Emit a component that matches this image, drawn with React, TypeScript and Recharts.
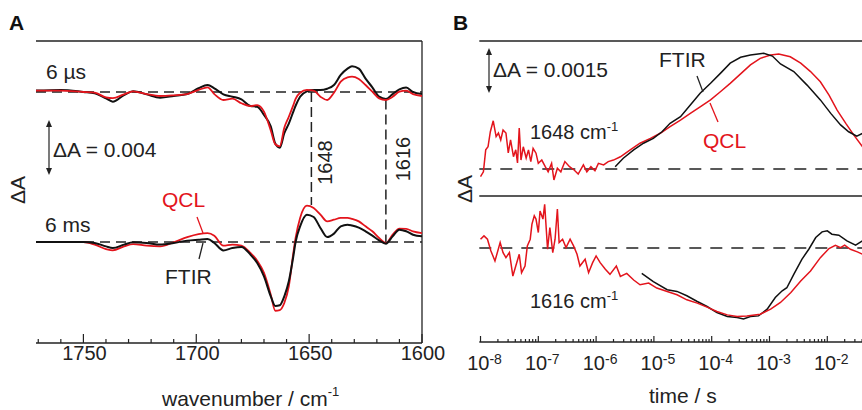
import React from "react";
import { LineChart, Line, XAxis, YAxis, ReferenceLine } from "recharts";

const FONT = '"Liberation Sans", Arial, Helvetica, sans-serif';
const INK = "#222";
const RED = "#e3141c";

// ---- Panel A: difference spectra (ΔA in 10^-3) ----
const wavenumbers = [
  1771, 1760, 1750, 1745, 1740, 1737, 1732, 1728, 1722, 1716, 1710, 1704, 1699, 1695, 1692, 1688,
  1684, 1680, 1676, 1673, 1670, 1667, 1665, 1663, 1661, 1659, 1657, 1656, 1654, 1651, 1648, 1645,
  1642, 1639, 1636, 1633, 1631, 1628, 1625, 1622, 1619, 1616, 1613, 1610, 1607, 1604, 1600,
];
const ftir6us = [
  0.1, 0.15, 0, -0.1, -0.46, -0.7, -0.22, 0.05, -0.17, -0.41, -0.29, -0.15, 0.27, 0.51, 0.27, -0.17,
  -0.34, -0.53, -1.02, -1.07, -1.67, -2.5, -3.75, -4.05, -3.0, -2.3, -1.43, -1.0, -0.34, 0.05, 0.15, 0.15,
  0.24, 0.51, 1.24, 1.7, 1.87, 1.7, 0.97, 0.34, -0.34, -0.51, -0.15, 0.19, 0.32, 0, -0.15,
];
const qcl6us = [
  0.1, 0.1, 0, -0.05, -0.39, -0.45, -0.17, 0.05, -0.15, -0.29, -0.24, -0.15, 0.15, 0.34, -0.15, -0.58,
  -0.48, -0.82, -1.02, -0.95, -1.43, -2.8, -3.8, -3.95, -2.6, -1.8, -0.95, -0.5, -0.05, 0.15, 0.1, -0.34,
  -0.58, -0.05, 0.75, 1.07, 1.12, 0.95, 0.51, 0.02, -0.46, -0.58, -0.34, 0.02, 0.1, -0.15, -0.29,
];
const ftir6ms = [
  0, 0, 0, -0.07, -0.32, -0.44, -0.19, -0.02, -0.07, -0.19, -0.07, 0.1, 0.17, 0.22, -0.07, -0.61,
  -0.44, -0.36, -0.92, -1.53, -2.5, -3.95, -4.65, -4.6, -3.95, -2.86, -1.04, 0, 1.14, 1.99, 1.82, 1.02,
  0.36, 0.61, 1.14, 1.26, 1.2, 1.05, 0.78, 0.46, 0.12, -0.12, 0.41, 0.9, 0.78, 0.53, 0.41,
];
const qcl6ms = [
  0, 0, 0, -0.19, -0.51, -0.61, -0.32, -0.15, -0.27, -0.32, -0.02, 0.36, 0.58, 0.65, 0.46, -0.27,
  -0.19, -0.27, -0.8, -1.36, -2.25, -3.83, -5.0, -4.95, -4.44, -3.22, -0.8, 0.29, 1.75, 2.64, 2.47, 1.99,
  1.5, 1.62, 1.75, 1.75, 1.68, 1.5, 1.14, 0.78, 0.29, -0.07, 0.53, 0.97, 0.95, 0.78, 0.65,
];
const wnMajorTicks = [1750, 1700, 1650, 1600];
const wnTicks = Array.from({ length: 18 }, (_, i) => 1600 + i * 10);

// ---- Panel B: kinetics, [log10(time / s), ΔA in 10^-3] ----
const qcl1648: [number, number][] = [
  [-8.0, -0.3], [-7.95, -0.11], [-7.91, 0.75], [-7.87, 0.87], [-7.83, 1.46], [-7.78, 1.89], [-7.73, 1.27],
  [-7.69, 1.41], [-7.65, 1.14], [-7.61, 1.53], [-7.56, 1.41], [-7.52, 0.63], [-7.48, 1.14], [-7.43, 0.48],
  [-7.39, 0.75], [-7.36, 0.24], [-7.33, 1.61], [-7.3, 0.35], [-7.26, 0.87], [-7.21, 0.43], [-7.17, 0.75],
  [-7.13, 0.29], [-7.09, 0.81], [-7.04, 0.62], [-7.0, 0.22], [-6.94, 0.35], [-6.88, 0.09], [-6.83, -0.11],
  [-6.77, 0.22], [-6.73, -0.43], [-6.67, 0.03], [-6.61, -0.11], [-6.54, 0.29], [-6.46, 0.09], [-6.38, -0.04],
  [-6.31, -0.2], [-6.22, 0.16], [-6.16, -0.11], [-6.09, 0.09], [-6.02, -0.07], [-5.96, 0.22], [-5.87, 0.16],
  [-5.79, 0.29], [-5.7, 0.35], [-5.58, 0.48], [-5.41, 0.75], [-5.24, 1.01], [-5.06, 1.2], [-4.89, 1.4],
  [-4.72, 1.66], [-4.54, 1.92], [-4.37, 2.18], [-4.2, 2.44], [-4.02, 2.71], [-3.85, 3.03], [-3.68, 3.36],
  [-3.5, 3.73], [-3.33, 4.08], [-3.16, 4.34], [-2.98, 4.47], [-2.84, 4.51], [-2.64, 4.4], [-2.46, 4.15],
  [-2.29, 3.82], [-2.12, 3.42], [-1.97, 2.9], [-1.83, 2.31], [-1.68, 1.79], [-1.54, 1.33], [-1.39, 0.87],
];
const ftir1648: [number, number][] = [
  [-5.67, 0.09], [-5.53, 0.42], [-5.35, 0.75], [-5.18, 1.01], [-5.01, 1.2], [-4.86, 1.46], [-4.72, 1.79],
  [-4.54, 2.05], [-4.37, 2.51], [-4.2, 2.97], [-4.02, 3.36], [-3.85, 3.75], [-3.68, 4.15], [-3.5, 4.38],
  [-3.33, 4.47], [-3.1, 4.54], [-2.95, 4.43], [-2.81, 4.12], [-2.58, 3.82], [-2.35, 3.29], [-2.12, 2.71],
  [-1.94, 2.18], [-1.77, 1.73], [-1.63, 1.46], [-1.49, 1.29], [-1.39, 1.4],
];
const qcl1616: [number, number][] = [
  [-8.0, 0.26], [-7.94, 0.36], [-7.88, 0.26], [-7.82, -0.09], [-7.75, -0.39], [-7.66, 0.16], [-7.61, -0.14],
  [-7.56, -0.29], [-7.5, -0.14], [-7.44, -0.84], [-7.39, -0.54], [-7.33, -0.19], [-7.29, -0.74], [-7.23, -0.54],
  [-7.19, 0.06], [-7.14, 0.26], [-7.11, 0.71], [-7.07, 0.96], [-7.04, 0.86], [-7.0, 0.46], [-6.97, 1.1],
  [-6.92, 0.86], [-6.89, 1.3], [-6.84, -0.04], [-6.8, 0.61], [-6.75, -0.14], [-6.71, 0.26], [-6.67, 1.16],
  [-6.64, 0.16], [-6.58, 0.26], [-6.52, 0.01], [-6.45, 0.26], [-6.39, 0.06], [-6.33, -0.19], [-6.28, -0.54],
  [-6.19, -0.34], [-6.13, -0.74], [-6.06, -0.44], [-6.0, -0.24], [-5.93, -0.44], [-5.84, -0.64], [-5.76, -0.79],
  [-5.65, -0.54], [-5.58, -0.85], [-5.47, -0.76], [-5.35, -0.96], [-5.24, -1.1], [-5.09, -1.05], [-4.95, -1.2],
  [-4.77, -1.3], [-4.6, -1.4], [-4.43, -1.55], [-4.25, -1.65], [-4.08, -1.77], [-3.91, -1.9], [-3.73, -2.0],
  [-3.56, -2.05], [-3.39, -2.03], [-3.16, -1.98], [-2.98, -1.83], [-2.81, -1.63], [-2.63, -1.33], [-2.46, -0.99],
  [-2.29, -0.69], [-2.12, -0.29], [-1.97, -0.02], [-1.86, 0.08], [-1.77, 0.01], [-1.7, 0.08], [-1.6, -0.04],
  [-1.48, -0.12], [-1.39, -0.19],
];
const ftir1616: [number, number][] = [
  [-5.21, -0.76], [-5.01, -1.01], [-4.77, -1.25], [-4.6, -1.3], [-4.43, -1.43], [-4.25, -1.6], [-4.08, -1.75],
  [-3.91, -1.93], [-3.73, -2.05], [-3.56, -2.08], [-3.45, -2.12], [-3.33, -2.05], [-3.19, -2.03], [-3.04, -1.83],
  [-2.9, -1.48], [-2.78, -1.28], [-2.7, -1.19], [-2.58, -0.79], [-2.44, -0.34], [-2.32, -0.04], [-2.2, 0.31],
  [-2.09, 0.48], [-2.0, 0.51], [-1.92, 0.41], [-1.8, 0.38], [-1.66, 0.21], [-1.51, 0.08], [-1.39, 0.21],
];
const timeExponents = [-8, -7, -6, -5, -4, -3, -2];
const topDaTicks = [0, 1, 2, 3, 4];
const bottomDaTicks = [-2, -1, 0, 1];

const spectraA = wavenumbers.map((wn, i) => ({
  wn,
  ftir6us: ftir6us[i],
  qcl6us: qcl6us[i],
  ftir6ms: ftir6ms[i],
  qcl6ms: qcl6ms[i],
}));
const toPoints = (s: [number, number][]) => s.map(([lg, v]) => ({ lg, v }));

const wnDomain = [1600, 1771];
const daDomainA = [-7.345, 14.618]; // bottom spectrum axis
const daDomainA6us = [-18.254, 3.709]; // top spectrum axis
const timeDomain = [-8.021, -0.742];
const daDomainBTop = [-1.06, 5.02];
const daDomainBBottom = [-2.81, 1.55];

const timeTicks: number[] = [];
[-9, -8, -7, -6, -5, -4, -3, -2, -1].forEach((e) => {
  for (let k = 1; k <= 9; k++) {
    const v = e + Math.log10(k);
    if (v >= timeDomain[0] && v <= timeDomain[1]) timeTicks.push(v);
  }
});

function WnTick(props: any) {
  const { x, y, payload } = props;
  const major = wnMajorTicks.includes(payload.value);
  return (
    <g>
      <line x1={x} x2={x} y1={y} y2={y - (major ? 9 : 4)} stroke={INK} strokeWidth={1.2} />
      {major && (
        <text x={x + 1} y={y + 17} textAnchor="middle" fontSize={20} fill={INK} fontFamily={FONT}>
          {payload.value}
        </text>
      )}
    </g>
  );
}

function TimeTick(props: any) {
  const { x, y, payload } = props;
  const v = payload.value;
  const exp = Math.round(v);
  const major = Math.abs(v - exp) < 1e-6 && timeExponents.includes(exp);
  return (
    <g>
      <line x1={x} x2={x} y1={y} y2={y - (major ? 6 : 3)} stroke={INK} strokeWidth={1.2} />
      {major && (
        <text x={x + 4} y={y + 28} textAnchor="middle" fontSize={20} fill={INK} fontFamily={FONT}>
          10
          <tspan dy={-6} fontSize={14}>
            {exp}
          </tspan>
        </text>
      )}
    </g>
  );
}

function DaTick(props: any) {
  const { x, y } = props;
  return <line x1={x} x2={x + 4} y1={y} y2={y} stroke={INK} strokeWidth={1.2} />;
}

function DoubleArrow({ x, y1, y2 }: { x: number; y1: number; y2: number }) {
  const h = 7;
  const w = 3;
  return (
    <g>
      <line x1={x} x2={x} y1={y1 + h - 1} y2={y2 - h + 1} stroke={INK} strokeWidth={1.2} />
      <polygon points={`${x},${y1} ${x - w},${y1 + h} ${x + w},${y1 + h}`} fill={INK} />
      <polygon points={`${x},${y2} ${x - w},${y2 - h} ${x + w},${y2 - h}`} fill={INK} />
    </g>
  );
}

const frame = { stroke: INK, strokeWidth: 1.3 };

function PanelA() {
  return (
    <LineChart
      width={450}
      height={410}
      data={spectraA}
      margin={{ top: 41, right: 28, bottom: 37, left: 36 }}
    >
      <XAxis
        dataKey="wn"
        type="number"
        domain={wnDomain}
        reversed
        allowDataOverflow
        ticks={wnTicks}
        interval={0}
        tick={WnTick}
        tickSize={0}
        tickMargin={0}
        height={30}
        axisLine={frame}
      />
      <YAxis
        yAxisId="bot"
        type="number"
        domain={daDomainA}
        allowDataOverflow
        width={0}
        tick={false}
        tickLine={false}
        axisLine={frame}
      />
      <YAxis yAxisId="top" type="number" domain={daDomainA6us} allowDataOverflow hide />
      {/* box: top and right edges */}
      <ReferenceLine yAxisId="bot" y={daDomainA[1]} ifOverflow="visible" {...frame} />
      <ReferenceLine yAxisId="bot" x={wnDomain[0]} ifOverflow="visible" {...frame} />
      <ReferenceLine yAxisId="top" y={0} stroke={INK} strokeWidth={1.5} strokeDasharray="10 6" />
      <ReferenceLine yAxisId="bot" y={0} stroke={INK} strokeWidth={1.5} strokeDasharray="10 6" />
      <ReferenceLine
        yAxisId="bot"
        segment={[{ x: 1649, y: 10.91 }, { x: 1649, y: 2.69 }]}
        stroke={INK}
        strokeWidth={1.5}
        strokeDasharray="10 5"
      />
      <ReferenceLine
        yAxisId="bot"
        segment={[{ x: 1616, y: 10.36 }, { x: 1616, y: 0 }]}
        stroke={INK}
        strokeWidth={1.5}
        strokeDasharray="10 5"
      />
      <Line yAxisId="top" type="monotone" dataKey="ftir6us" stroke="#111" strokeWidth={2} dot={false} isAnimationActive={false} />
      <Line yAxisId="top" type="monotone" dataKey="qcl6us" stroke={RED} strokeWidth={1.8} dot={false} isAnimationActive={false} />
      <Line yAxisId="bot" type="monotone" dataKey="qcl6ms" stroke={RED} strokeWidth={1.8} dot={false} isAnimationActive={false} />
      <Line yAxisId="bot" type="monotone" dataKey="ftir6ms" stroke="#111" strokeWidth={2} dot={false} isAnimationActive={false} />
    </LineChart>
  );
}

function PanelBTop() {
  return (
    <LineChart width={470} height={200} margin={{ top: 41, right: 10, bottom: 4, left: 39.3 }}>
      <XAxis dataKey="lg" type="number" domain={timeDomain} allowDataOverflow hide />
      <YAxis
        type="number"
        domain={daDomainBTop}
        allowDataOverflow
        ticks={topDaTicks}
        interval={0}
        tick={DaTick}
        tickSize={0}
        tickMargin={0}
        width={0}
        axisLine={frame}
      />
      <ReferenceLine y={daDomainBTop[1]} ifOverflow="visible" {...frame} />
      <ReferenceLine y={0} stroke={INK} strokeWidth={1.5} strokeDasharray="12 9" />
      <Line data={toPoints(qcl1648)} dataKey="v" type="linear" stroke={RED} strokeWidth={1.5} dot={false} isAnimationActive={false} />
      <Line data={toPoints(ftir1648)} dataKey="v" type="linear" stroke="#111" strokeWidth={1.5} dot={false} isAnimationActive={false} />
    </LineChart>
  );
}

function PanelBBottom() {
  return (
    <LineChart width={470} height={218} margin={{ top: 4, right: 10, bottom: 0, left: 39.3 }}>
      <XAxis
        dataKey="lg"
        type="number"
        domain={timeDomain}
        allowDataOverflow
        ticks={timeTicks}
        interval={0}
        tick={TimeTick}
        tickSize={0}
        tickMargin={0}
        height={68}
        axisLine={frame}
      />
      <YAxis
        type="number"
        domain={daDomainBBottom}
        allowDataOverflow
        ticks={bottomDaTicks}
        interval={0}
        tick={DaTick}
        tickSize={0}
        tickMargin={0}
        width={0}
        axisLine={frame}
      />
      {/* separator between the two kinetics */}
      <ReferenceLine y={daDomainBBottom[1]} ifOverflow="visible" {...frame} />
      <ReferenceLine y={0} stroke={INK} strokeWidth={1.5} strokeDasharray="12 9" />
      <Line data={toPoints(ftir1616)} dataKey="v" type="linear" stroke="#111" strokeWidth={1.5} dot={false} isAnimationActive={false} />
      <Line data={toPoints(qcl1616)} dataKey="v" type="linear" stroke={RED} strokeWidth={1.5} dot={false} isAnimationActive={false} />
    </LineChart>
  );
}

export default function App() {
  return (
    <div
      style={{
        position: "absolute",
        left: 0,
        top: 0,
        width: 862,
        height: 410,
        overflow: "hidden",
        background: "#fff",
        fontFamily: FONT,
      }}
    >
      <div style={{ position: "absolute", left: 0, top: 0 }}>
        <PanelA />
      </div>
      <div style={{ position: "absolute", left: 440, top: 0 }}>
        <PanelBTop />
      </div>
      <div style={{ position: "absolute", left: 440, top: 192 }}>
        <PanelBBottom />
      </div>
      <svg
        width={862}
        height={410}
        style={{ position: "absolute", left: 0, top: 0, pointerEvents: "none" }}
        fontFamily={FONT}
        fontSize={21}
        fill={INK}
      >
        <text x={9} y={30} fontWeight="bold" fill="#111">A</text>
        <text x={453} y={30} fontWeight="bold" fill="#111">B</text>

        <text x={46} y={79}>6 µs</text>
        <text x={45} y={232}>6 ms</text>
        <DoubleArrow x={49} y1={120} y2={175} />
        <text x={53} y={157}>ΔA = 0.004</text>
        <text transform="translate(25,190) rotate(-90)" textAnchor="middle">ΔA</text>
        <text x={162} y={207} fill={RED}>QCL</text>
        <line x1={197} y1={217} x2={203} y2={233} stroke={RED} strokeWidth={1.3} />
        <text x={165} y={284}>FTIR</text>
        <line x1={203} y1={243} x2={199} y2={259} stroke={INK} strokeWidth={1.3} />
        <text transform="translate(331.5,162.5) rotate(-90)" textAnchor="middle" fontSize={20}>1648</text>
        <text transform="translate(410,159) rotate(-90)" textAnchor="middle" fontSize={20}>1616</text>
        <text x={162} y={406}>
          wavenumber / cm
          <tspan dy={-10} fontSize={13}>-1</tspan>
        </text>

        <DoubleArrow x={489} y1={48} y2={93} />
        <text x={493} y={77}>ΔA = 0.0015</text>
        <text x={659} y={67}>FTIR</text>
        <line x1={697} y1={76} x2={703} y2={92} stroke={INK} strokeWidth={1.3} />
        <text x={530} y={139} fontSize={20}>
          1648 cm
          <tspan dy={-8} fontSize={13}>-1</tspan>
        </text>
        <text x={703} y={148} fill={RED}>QCL</text>
        <line x1={710} y1={103} x2={718} y2={122} stroke={RED} strokeWidth={1.3} />
        <text transform="translate(472,189) rotate(-90)" textAnchor="middle">ΔA</text>
        <text x={530} y={308} fontSize={20}>
          1616 cm
          <tspan dy={-8} fontSize={13}>-1</tspan>
        </text>
        <text x={649} y={403}>time / s</text>
      </svg>
    </div>
  );
}
